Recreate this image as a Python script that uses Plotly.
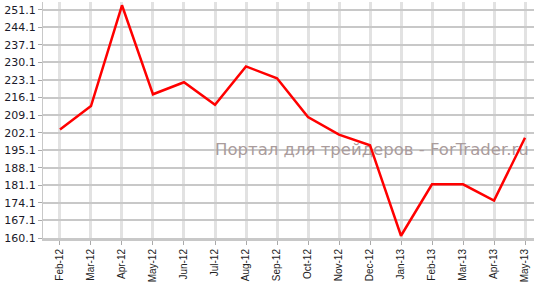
import plotly.graph_objects as go

months = ["Feb-12", "Mar-12", "Apr-12", "May-12", "Jun-12", "Jul-12", "Aug-12", "Sep-12",
          "Oct-12", "Nov-12", "Dec-12", "Jan-13", "Feb-13", "Mar-13", "Apr-13", "May-13"]
values = [203.4, 212.7, 252.9, 217.4, 222.2, 213.2, 228.5, 223.8,
          208.3, 201.3, 197.1, 161.0, 181.5, 181.5, 175.0, 200.1]
ytick_vals = [160.1, 167.1, 174.1, 181.1, 188.1, 195.1, 202.1, 209.1,
              216.1, 223.1, 230.1, 237.1, 244.1, 251.1]
watermark = "Портал для трейдеров - ForTrader.ru"

fig = go.Figure()
# watermark text drawn first so the data line passes over it
fig.add_trace(go.Scatter(
    x=[10.06], y=[194.7], mode="text", text=[watermark],
    textposition="middle center",
    textfont=dict(family="DejaVu Sans", size=16.5, color="#aa9c9c"),
    hoverinfo="skip", showlegend=False, cliponaxis=False,
))
fig.add_trace(go.Scatter(
    x=list(range(len(months))), y=values, mode="lines",
    line=dict(color="#ff0000", width=2.5),
    hoverinfo="skip", showlegend=False,
))

fig.update_layout(
    width=534, height=282,
    margin=dict(l=43, r=0, t=2, b=42),
    paper_bgcolor="white", plot_bgcolor="white",
    xaxis=dict(
        range=[-0.548, 15.29],
        tickmode="array", tickvals=list(range(len(months))), ticktext=months,
        tickangle=-90, tickfont=dict(family="Liberation Sans", size=10, color="#222"),
        showgrid=True, gridcolor="#e2e2e2", gridwidth=3,
        showline=True, linecolor="#c8c8c8", linewidth=3,
        ticks="outside", ticklen=4, tickcolor="#aaa", tickwidth=1,
        zeroline=False, fixedrange=True,
    ),
    yaxis=dict(
        range=[160.1, 254.2],
        tickmode="array", tickvals=ytick_vals,
        ticktext=[f"{v:.1f}" for v in ytick_vals],
        tickfont=dict(family="DejaVu Sans", size=11, color="#1a1a2a"),
        showgrid=True, gridcolor="#c8c8c8", gridwidth=1.5,
        showline=True, linecolor="#c8c8c8", linewidth=1,
        ticks="outside", ticklen=4, tickcolor="#aaa", tickwidth=1,
        zeroline=False, fixedrange=True,
    ),
)

fig.write_html("out.html", config={"displayModeBar": False})
